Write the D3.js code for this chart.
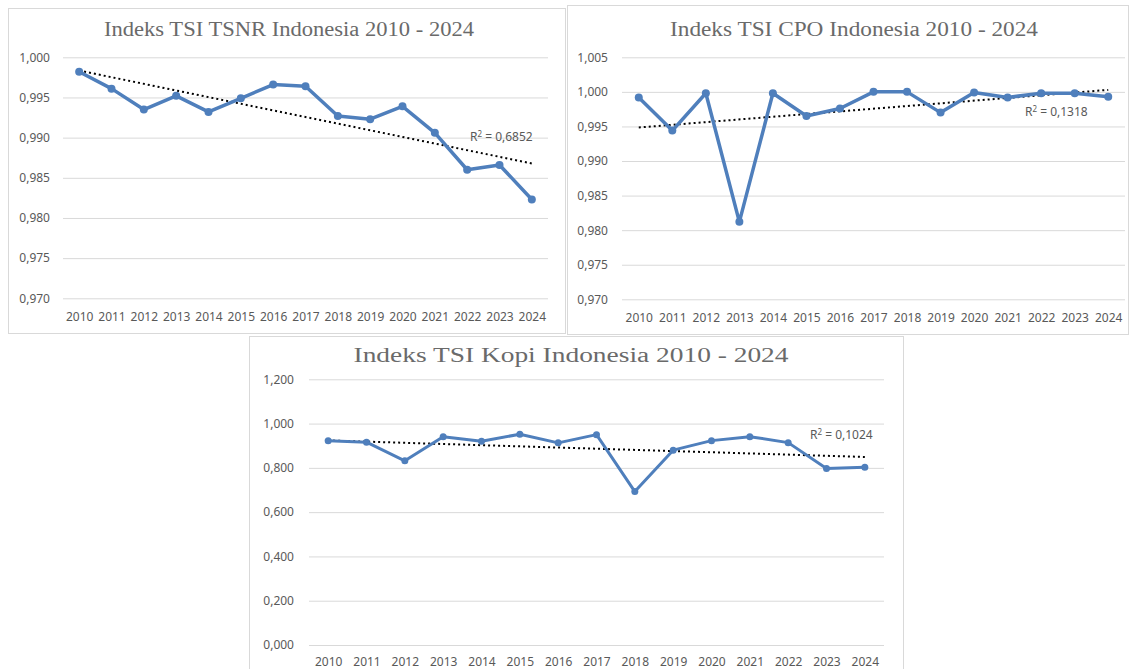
<!DOCTYPE html>
<meta charset="utf-8">
<style>
    body { margin: 0; background: #fff; }
    .tick text { font-family: "Noto Sans", sans-serif; fill: #595959; }
    .grid line { stroke: #d9d9d9; stroke-width: 1; }
    .chartTitle { font-family: "Liberation Serif", serif; fill: #6a6a6a; }
    .r2 { font-family: "Noto Sans", sans-serif; fill: #595959; font-size: 12px; }
</style>
<svg width="1134" height="669"></svg>
<script src="https://cdn.jsdelivr.net/npm/d3@7"></script>
<script>
    // tahun dan nilai indeks TSI
    var years = ["2010", "2011", "2012", "2013", "2014", "2015", "2016", "2017",
        "2018", "2019", "2020", "2021", "2022", "2023", "2024"];

    var tsnrValues = [0.9982, 0.9961, 0.9935, 0.9952, 0.9932, 0.9949, 0.9966, 0.9964,
        0.9927, 0.9923, 0.9939, 0.9906, 0.9860, 0.9866, 0.9823];
    var cpoValues = [0.9992, 0.9944, 0.9998, 0.9812, 0.9998, 0.9965, 0.9976, 1.0000,
        1.0000, 0.9970, 0.9999, 0.9992, 0.9998, 0.9998, 0.9993];
    var kopiValues = [0.922, 0.916, 0.832, 0.941, 0.920, 0.952, 0.913, 0.950,
        0.693, 0.880, 0.923, 0.941, 0.914, 0.797, 0.803];

    var tsnrTicks = [0.970, 0.975, 0.980, 0.985, 0.990, 0.995, 1.000];
    var cpoTicks = [0.970, 0.975, 0.980, 0.985, 0.990, 0.995, 1.000, 1.005];
    var kopiTicks = [0, 0.2, 0.4, 0.6, 0.8, 1.0, 1.2];

    var tsnrR2 = "0,6852", cpoR2 = "0,1318", kopiR2 = "0,1024";

    var idLocale = d3.formatLocale({decimal: ",", thousands: ".", grouping: [3], currency: ["", ""]});
    var fmt = idLocale.format(".3f");

    var svg = d3.select("svg");

    function drawChart(c) {
        var g = svg.append("g");

        // bingkai chart
        g.append("rect")
            .attr("x", c.box[0] + 0.5).attr("y", c.box[1] + 0.5)
            .attr("width", c.box[2]).attr("height", c.box[3])
            .attr("fill", "#fff").attr("stroke", "#d9d9d9");

        var x = d3.scalePoint().domain(years).range([c.left, c.right]).padding(0.5);
        var y = d3.scaleLinear().domain(c.domain).range([c.bottom, c.top]);

        g.append("g")
            .attr("class", "grid")
            .attr("transform", "translate(" + c.left + ",0)")
            .call(d3.axisLeft(y).tickValues(c.ticks).tickFormat(fmt)
                .tickSize(-(c.right - c.left)).tickPadding(c.ypad))
            .call(function (a) { a.select(".domain").remove(); })
            .selectAll("text").style("font-size", c.fs + "px");

        g.append("g")
            .attr("transform", "translate(0," + c.bottom + ")")
            .call(d3.axisBottom(x).tickSize(0).tickPadding(c.xpad))
            .call(function (a) { a.select(".domain").remove(); })
            .selectAll("text").style("font-size", c.fs + "px");

        // garis tren linear (kuadrat terkecil)
        var n = c.values.length, mx = (n - 1) / 2, my = d3.mean(c.values);
        var sxy = d3.sum(c.values, function (v, i) { return (i - mx) * (v - my); });
        var sxx = d3.sum(c.values, function (v, i) { return (i - mx) * (i - mx); });
        var slope = sxy / sxx, icpt = my - slope * mx;
        g.append("line")
            .attr("x1", x(years[0])).attr("y1", y(icpt))
            .attr("x2", x(years[n - 1])).attr("y2", y(icpt + slope * (n - 1)))
            .attr("stroke", "#000").attr("stroke-width", 2)
            .attr("stroke-dasharray", "2,3");

        var line = d3.line()
            .x(function (d, i) { return x(years[i]); })
            .y(function (d) { return y(d); });

        g.append("path")
            .datum(c.values)
            .attr("d", line)
            .attr("fill", "none")
            .attr("stroke", "#4f7fbc")
            .attr("stroke-width", c.lw)
            .attr("stroke-linejoin", "round");

        g.selectAll("circle")
            .data(c.values)
            .enter().append("circle")
            .attr("cx", function (d, i) { return x(years[i]); })
            .attr("cy", function (d) { return y(d); })
            .attr("r", c.mr)
            .attr("fill", "#4f7fbc");

        g.append("text")
            .attr("class", "chartTitle")
            .attr("x", c.titlePos[0]).attr("y", c.titlePos[1])
            .attr("text-anchor", "middle")
            .style("font-size", c.titleSize + "px")
            .attr("textLength", c.titleLen)
            .attr("lengthAdjust", "spacingAndGlyphs")
            .text(c.title);

        var r2 = g.append("text")
            .attr("class", "r2")
            .attr("x", c.r2Pos[0]).attr("y", c.r2Pos[1]);
        r2.append("tspan").text("R");
        r2.append("tspan").attr("dy", -4).style("font-size", "8px").text("2");
        r2.append("tspan").attr("dy", 4).text(" = " + c.r2);
    }

    drawChart({
        box: [8, 8, 557, 325], left: 63, right: 548, top: 57.3, bottom: 298.3,
        domain: [0.970, 1.000], ticks: tsnrTicks, values: tsnrValues,
        fs: 12, ypad: 13, xpad: 14, lw: 3.5, mr: 4,
        title: "Indeks TSI TSNR Indonesia 2010 - 2024", titlePos: [289, 36], titleSize: 20, titleLen: 370,
        r2: tsnrR2, r2Pos: [470, 141]
    });

    drawChart({
        box: [567, 5, 561, 329], left: 622, right: 1125, top: 57.3, bottom: 299.3,
        domain: [0.970, 1.005], ticks: cpoTicks, values: cpoValues,
        fs: 12, ypad: 14, xpad: 14, lw: 3.5, mr: 4,
        title: "Indeks TSI CPO Indonesia 2010 - 2024", titlePos: [854, 36], titleSize: 20, titleLen: 368,
        r2: cpoR2, r2Pos: [1025, 116]
    });

    drawChart({
        box: [249, 336, 654, 340], left: 309, right: 884, top: 379.3, bottom: 645,
        domain: [0, 1.2], ticks: kopiTicks, values: kopiValues,
        fs: 12, ypad: 15, xpad: 12, lw: 3, mr: 3.5,
        title: "Indeks TSI Kopi Indonesia 2010 - 2024", titlePos: [571, 362], titleSize: 20, titleLen: 435,
        r2: kopiR2, r2Pos: [810, 439]
    });
</script>
